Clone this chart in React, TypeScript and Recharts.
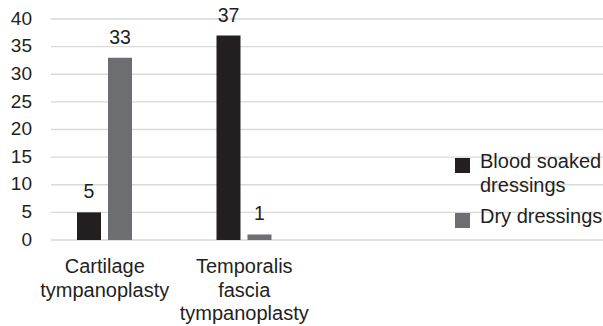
import React from 'react';
import { BarChart, Bar, XAxis, YAxis, CartesianGrid, Legend, LabelList } from 'recharts';

const categories = ['Cartilage tympanoplasty', 'Temporalis fascia tympanoplasty'];
const bloodSoaked = [5, 37];
const dryDressings = [33, 1];
const yTicks = [0, 5, 10, 15, 20, 25, 30, 35, 40];

const FONT = '"Liberation Sans", Arial, sans-serif';
const TEXT = '#231f20';

const data = categories.map((category, i) => ({
  category,
  blood: bloodSoaked[i],
  dry: dryDressings[i],
}));

const CategoryTick = (props: any) => {
  const { x, y, payload } = props;
  const lines = String(payload.value).split(' ');
  return (
    <text x={x} y={y + 25} textAnchor="middle" fill={TEXT} fontSize={20} fontFamily={FONT}>
      {lines.map((line, i) => (
        <tspan key={i} x={x} dy={i === 0 ? 0 : 23.5}>
          {line}
        </tspan>
      ))}
    </text>
  );
};

const LegendContent = (props: any) => {
  const { payload } = props;
  return (
    <div style={{ fontFamily: FONT, fontSize: 20, lineHeight: '24px', color: TEXT }}>
      {(payload || []).map((entry: any, i: number) => (
        <div key={i} style={{ display: 'flex', alignItems: 'flex-start', marginBottom: 7 }}>
          <span
            style={{
              width: 15,
              height: 15,
              marginTop: 9,
              marginRight: 10,
              flexShrink: 0,
              background: entry.color,
            }}
          />
          <span style={{ width: 123, whiteSpace: 'normal' }}>{entry.value}</span>
        </div>
      ))}
    </div>
  );
};

export default function App() {
  return (
    <div>
      <style>{`body{margin:0}`}</style>
      <BarChart
        width={603}
        height={326}
        data={data}
        margin={{ top: 19, right: 289, bottom: 0, left: 0 }}
        barSize={24}
        barGap={7}
      >
        <CartesianGrid x={51} width={552} vertical={false} stroke="#d9d9d9" strokeWidth={1.3} />
        <XAxis
          dataKey="category"
          axisLine={false}
          tickLine={false}
          interval={0}
          height={86}
          tick={<CategoryTick />}
        />
        <YAxis
          domain={[0, 40]}
          ticks={yTicks}
          interval={0}
          width={35}
          axisLine={false}
          tickLine={false}
          tickSize={0}
          tickMargin={3}
          tick={{ fill: TEXT, fontSize: 19, fontFamily: FONT, dy: -1 }}
        />
        <Legend
          layout="horizontal"
          verticalAlign="middle"
          align="center"
          wrapperStyle={{ left: 455, top: 149, width: 148 }}
          content={<LegendContent />}
        />
        <Bar dataKey="blood" name="Blood soaked dressings" fill="#231f20" isAnimationActive={false}>
          <LabelList dataKey="blood" position="top" offset={14} fill={TEXT} fontSize={19.5} fontFamily={FONT} />
        </Bar>
        <Bar dataKey="dry" name="Dry dressings" fill="#6d6e71" isAnimationActive={false}>
          <LabelList dataKey="dry" position="top" offset={14} fill={TEXT} fontSize={19.5} fontFamily={FONT} />
        </Bar>
      </BarChart>
    </div>
  );
}
